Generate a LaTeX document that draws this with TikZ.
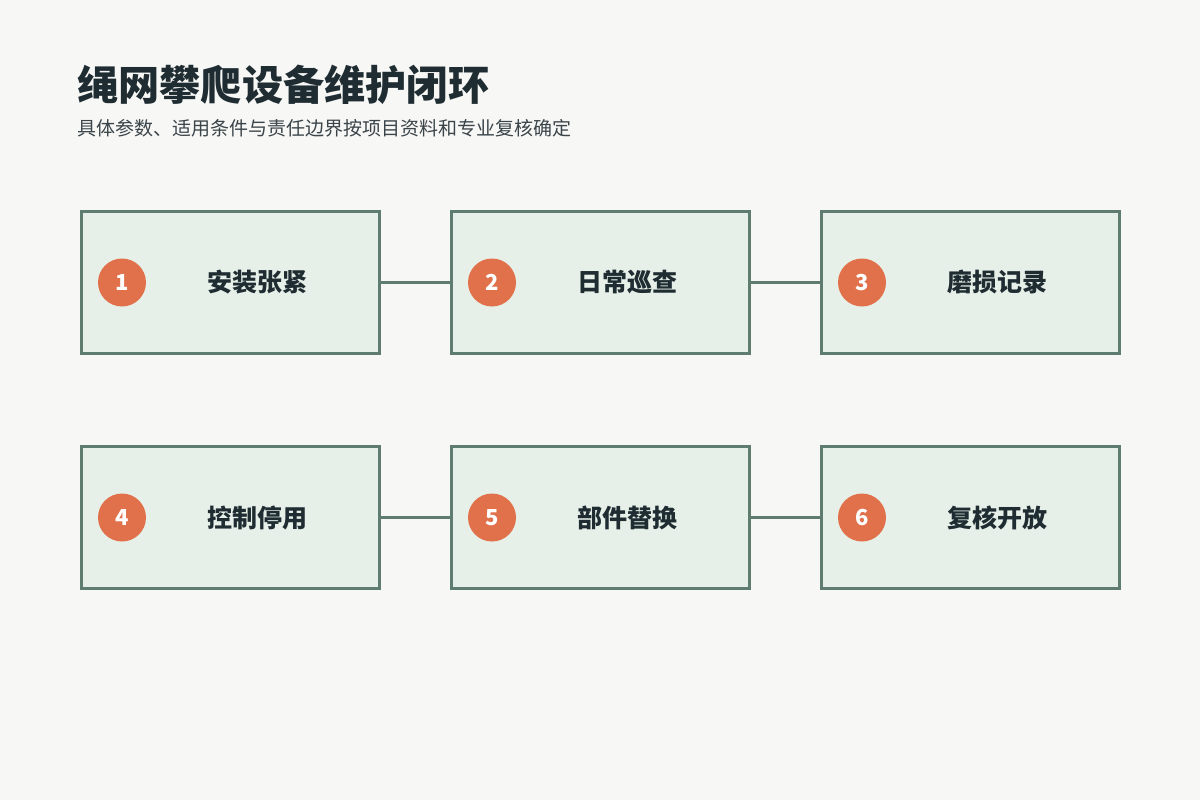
\documentclass[tikz,border=0pt]{standalone}
\usepackage{fontspec}
\usetikzlibrary{calc}
\setmainfont{Noto Sans CJK SC}
\newfontfamily\cjk{Noto Sans CJK SC}
\definecolor{bgc}{HTML}{F7F7F5}
\definecolor{boxfill}{HTML}{E7F0E8}
\definecolor{boxline}{HTML}{5F7D6E}
\definecolor{badge}{HTML}{E0714A}
\definecolor{ink}{HTML}{1F2D33}
\definecolor{subink}{HTML}{3A4449}
\begin{document}
\begin{tikzpicture}[x=1pt,y=-1pt,
  stepbox/.style={draw=boxline,fill=boxfill,line width=3pt,minimum width=298pt,minimum height=142pt,inner sep=0pt},
  badgec/.style={circle,fill=badge,minimum size=48pt,inner sep=0pt,text=white,font=\cjk\bfseries\fontsize{22}{22}\selectfont},
  lab/.style={text=ink,font=\cjk\bfseries\fontsize{25}{26}\selectfont,inner sep=0pt},
  link/.style={draw=boxline,line width=2.6pt}]
\fill[bgc] (0,0) rectangle (1200,800);
\useasboundingbox (0,0) rectangle (1200,800);
\node[anchor=base west,inner sep=0pt,text=ink,font=\cjk\bfseries\fontsize{41.2}{44}\selectfont] (title) at (77,100) {绳网攀爬设备维护闭环};
\node[anchor=base west,inner sep=0pt,text=subink,font=\cjk\fontsize{19}{21}\selectfont] (sub) at (77,135) {具体参数、适用条件与责任边界按项目资料和专业复核确定};
\foreach \i/\cx/\cy/\t in {1/230.5/282.5/安装张紧,2/600.5/282.5/日常巡查,3/970.5/282.5/磨损记录,4/230.5/517.5/控制停用,5/600.5/517.5/部件替换,6/970.5/517.5/复核开放}{
  \node[stepbox] (b\i) at (\cx,\cy) {};
  \node[badgec] (c\i) at ($(b\i.west)+(42,0)$) {\i};
  \node[lab] (l\i) at ($(b\i.center)+(26.5,0)$) {\t};
}
\draw[link] (b1.east) -- (b2.west);
\draw[link] (b2.east) -- (b3.west);
\draw[link] (b4.east) -- (b5.west);
\draw[link] (b5.east) -- (b6.west);
\end{tikzpicture}
\end{document}
